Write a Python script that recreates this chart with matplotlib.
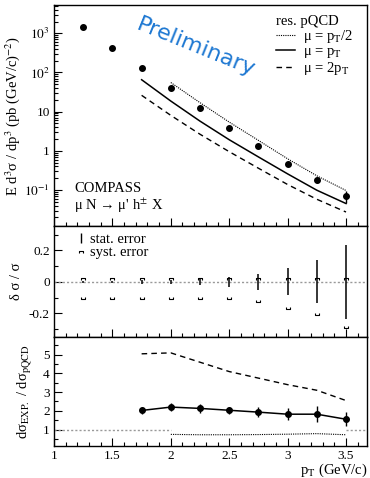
import matplotlib
matplotlib.use("Agg")
import matplotlib.pyplot as plt
from matplotlib.path import Path
from matplotlib.lines import Line2D
from matplotlib.ticker import (MultipleLocator, FixedLocator, FixedFormatter, LogLocator,
                               NullFormatter, FormatStrFormatter)

plt.rcParams["font.family"] = ["Liberation Serif", "DejaVu Serif"]
plt.rcParams["mathtext.fontset"] = "stix"

# --- data ---
pt_all = [1.25, 1.5, 1.75, 2.0, 2.25, 2.5, 2.75, 3.0, 3.25, 3.5]
sigma = [1420, 420, 132, 41, 12.2, 3.9, 1.35, 0.47, 0.18, 0.07]
sigma_err = [0, 0, 0, 0, 0, 0, 0.05, 0.05, 0.03, 0.024]

pt_th = [1.75, 2.0, 2.25, 2.5, 2.75, 3.0, 3.25, 3.5]
ratio_mu1 = [2.02, 2.2, 2.13, 2.03, 1.93, 1.82, 1.82, 1.55]
ratio_mu1_err = [0.2, 0.22, 0.22, 0.2, 0.25, 0.32, 0.42, 0.38]
ratio_mu2 = [5.05, 5.1, 4.6, 4.1, 3.75, 3.4, 3.1, 2.55]
pt_half = [2.0, 2.25, 2.5, 2.75, 3.0, 3.25, 3.5]
ratio_half = [0.74, 0.72, 0.72, 0.73, 0.75, 0.78, 0.72]

stat_rel = [0.005, 0.007, 0.01, 0.015, 0.02, 0.03, 0.053, 0.086, 0.137, 0.235]
syst_up = [0.028] * 10
syst_down = [-0.111, -0.111, -0.111, -0.111, -0.111, -0.111, -0.128, -0.171, -0.21, -0.293]

ytick_vals = [0.1, 1, 10, 100, 1000]
ytick_labels = [r"$10^{-1}$", "1", "10", r"$10^{2}$", r"$10^{3}$"]

# theory curves in the top panel = data / ratio
sig_th = sigma[2:]
theo_mu1 = [s / r for s, r in zip(sig_th, ratio_mu1)]
theo_mu2 = [s / r for s, r in zip(sig_th, ratio_mu2)]
theo_half = [s / r for s, r in zip(sig_th[1:], ratio_half)]

fig = plt.figure(figsize=(3.7, 4.78), dpi=100)
L, W = 0.146, 0.846
ax1 = fig.add_axes([L, 0.527, W, 0.462])
ax2 = fig.add_axes([L, 0.295, W, 0.232])
ax3 = fig.add_axes([L, 0.067, W, 0.228])

FS = 9.5
for ax in (ax1, ax2, ax3):
    ax.set_xlim(1, 3.68)
    ax.xaxis.set_major_locator(MultipleLocator(0.5))
    ax.xaxis.set_minor_locator(MultipleLocator(0.1))
    ax.xaxis.set_major_formatter(FormatStrFormatter("%g"))
    ax.tick_params(which="both", direction="in", top=False, right=False, labelsize=FS, pad=3)
    ax.tick_params(which="major", length=6, width=0.8)
    ax.tick_params(which="minor", length=3, width=0.8)
    for s in ax.spines.values():
        s.set_linewidth(1.0)

# --- top panel ---
ax1.set_yscale("log")
ax1.set_ylim(0.012, 5200)
ax1.yaxis.set_major_locator(FixedLocator(ytick_vals))
ax1.yaxis.set_major_formatter(FixedFormatter(ytick_labels))
ax1.yaxis.set_minor_locator(LogLocator(base=10, subs=range(2, 10)))
ax1.yaxis.set_minor_formatter(NullFormatter())
ax1.tick_params(axis="x", labelbottom=False)

ax1.errorbar(pt_all, sigma, yerr=sigma_err, fmt="o", color="black", ms=4, elinewidth=1, capsize=0)
ax1.plot(pt_half, theo_half, color="black", lw=0.8, ls=(0, (1, 1)), label=r"μ = p$_{\rm T}$/2")
ax1.plot(pt_th, theo_mu1, color="black", lw=1.1, ls="-", label=r"μ = p$_{\rm T}$")
ax1.plot(pt_th, theo_mu2, color="black", lw=1.0, ls=(0, (4, 3)), label=r"μ = 2p$_{\rm T}$")
leg = ax1.legend(title="res. pQCD", loc="upper right", bbox_to_anchor=(1.0, 1.015), frameon=False,
                 fontsize=FS + 1, title_fontsize=FS + 1, handlelength=1.3, handletextpad=0.6,
                 labelspacing=0.0, alignment="left")
ax1.set_ylabel(r"E d$^3$σ / dp$^3$ (pb (GeV/c)$^{-2}$)", fontsize=FS + 1, labelpad=2)
ax1.text(0.065, 0.155, "COMPASS", transform=ax1.transAxes, fontsize=FS + 1)
ax1.text(0.065, 0.075, r"μ N → μ' h$^{\pm}$ X", transform=ax1.transAxes, fontsize=FS + 1)
ax1.text(0.455, 0.81, "Preliminary", transform=ax1.transAxes, fontsize=16, rotation=-22,
         color="#1e78d2", family="DejaVu Sans", ha="center", va="center")

# --- middle panel ---
ax2.set_ylim(-0.35, 0.355)
ax2.yaxis.set_major_locator(FixedLocator([-0.2, 0, 0.2]))
ax2.yaxis.set_major_formatter(FixedFormatter(["-0.2", "0", "0.2"]))
ax2.yaxis.set_minor_locator(MultipleLocator(0.1))
ax2.tick_params(axis="x", labelbottom=False)
ax2.axhline(0, color="#999999", lw=1, ls=(0, (1.5, 1.5)))
cap_up = Path([(-1, -0.9), (-1, 0), (1, 0), (1, -0.9)])
cap_dn = Path([(-1, 0.9), (-1, 0), (1, 0), (1, 0.9)])
ax2.errorbar(pt_all, [0] * len(pt_all), yerr=stat_rel, fmt="none", ecolor="black", elinewidth=1.1, capsize=0)
ax2.plot(pt_all, syst_up, ls="none", marker=cap_up, ms=3.5, mfc="none", mec="black", mew=0.8)
ax2.plot(pt_all, syst_down, ls="none", marker=cap_dn, ms=3.5, mfc="none", mec="black", mew=0.8)
h_stat = Line2D([], [], ls="none", marker="|", ms=7, mec="black", mew=1)
h_syst = Line2D([], [], ls="none", marker=cap_up, ms=3.5, mfc="none", mec="black", mew=0.8)
ax2.legend([h_stat, h_syst], ["stat. error", "syst. error"], loc="upper left", bbox_to_anchor=(0.03, 1.06),
           frameon=False, fontsize=FS + 1, handlelength=0.6, handletextpad=0.3, labelspacing=0.0)
ax2.set_ylabel("δ σ / σ", fontsize=FS + 1, labelpad=4)

# --- bottom panel ---
ax3.set_ylim(0.12, 5.95)
ax3.yaxis.set_major_locator(MultipleLocator(1))
ax3.yaxis.set_minor_locator(MultipleLocator(0.5))
ax3.hlines(1, 1, 2, color="#999999", lw=1, ls=(0, (1.5, 1.5)))
ax3.hlines(1, 3.5, 3.68, color="#999999", lw=1, ls=(0, (1.5, 1.5)))
ax3.plot(pt_half, ratio_half, color="black", lw=0.8, ls=(0, (1, 1)))
ax3.plot(pt_th, ratio_mu2, color="black", lw=1.0, ls=(0, (4, 3)))
ax3.errorbar(pt_th, ratio_mu1, yerr=ratio_mu1_err, fmt="-o", color="black", ms=4, lw=1.1,
             elinewidth=1, capsize=0)
ax3.set_ylabel(r"dσ$_{\rm EXP.}$ / dσ$_{\rm pQCD}$", fontsize=FS + 1, labelpad=6)
ax3.set_xlabel(r"p$_{\rm T}$ (GeV/c)", fontsize=FS + 1, loc="right", labelpad=0)

fig.savefig("out.png", dpi=100)
